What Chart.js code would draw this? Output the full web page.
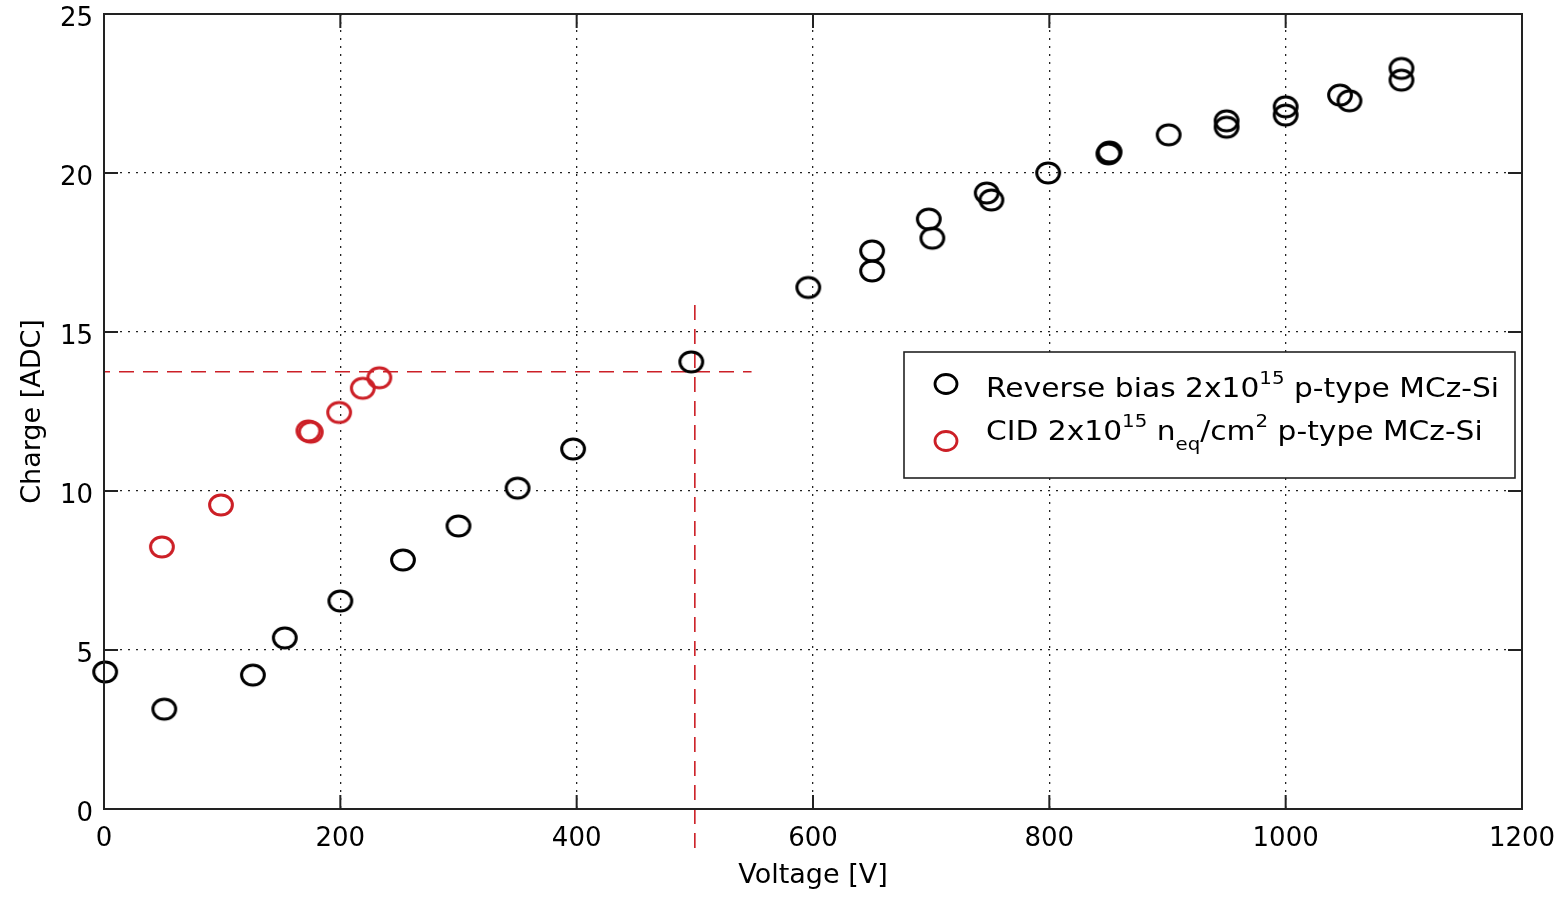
<!DOCTYPE html>
<html>
<head>
<meta charset="utf-8">
<script src="https://cdn.jsdelivr.net/npm/chart.js@4.4.0/dist/chart.umd.min.js"></script>
<style>
body { margin: 0; background: #fff; }
#contenitore { width: 1564px; height: 897px; }
</style>
</head>
<body>
<div id="contenitore"><canvas id="grafico" width="1564" height="897"></canvas></div>
<script>
// dati letti dal grafico
// reverse bias
var tensioneRB = [1, 51, 126, 153, 200, 253, 300, 350, 397, 497, 596, 650, 650, 698, 701, 747, 751, 799, 850, 851, 901, 950, 950, 1000, 1000, 1046, 1054, 1098, 1098];
var caricaRB = [4.31, 3.14, 4.21, 5.38, 6.54, 7.83, 8.9, 10.09, 11.32, 14.06, 16.4, 17.55, 16.92, 18.55, 17.95, 19.37, 19.15, 20.0, 20.6, 20.66, 21.2, 21.64, 21.44, 22.08, 21.82, 22.45, 22.27, 23.29, 22.92];

// CID
var tensioneCID = [49, 99, 173, 175, 199, 219, 233];
var caricaCID = [8.24, 9.56, 11.89, 11.85, 12.47, 13.23, 13.56];

// linee guida tratteggiate
var guidaOrizX = [0, 548];
var guidaOrizY = [13.75, 13.75];
var guidaVertX = [500, 500];
var guidaVertY = [15.85, -1.35];

// tick
var tickX = [0, 200, 400, 600, 800, 1000, 1200];
var tickY = [0, 5, 10, 15, 20, 25];

var rosso = '#cc1f26';
var nero = '#000000';

function punti(xs, ys) {
    var out = [];
    for (var i = 0; i < xs.length; i++) {
        out.push({x: xs[i], y: ys[i]});
    }
    return out;
}

// cerchio leggermente schiacciato come nell'originale
function cerchio(colore) {
    var c = document.createElement('canvas');
    c.width = 30;
    c.height = 26;
    var ctx = c.getContext('2d');
    ctx.strokeStyle = colore;
    ctx.lineWidth = 3;
    ctx.beginPath();
    ctx.ellipse(15, 13, 11.4, 10, 0, 0, Math.PI * 2);
    ctx.stroke();
    return c;
}

// cornice, tacche interne e legenda
var cornice = {
    id: 'cornice',
    afterDraw: function(chart) {
        var ctx = chart.ctx;
        var a = chart.chartArea;
        var sx = chart.scales.x;
        var sy = chart.scales.y;
        ctx.save();
        ctx.strokeStyle = '#222';
        ctx.lineWidth = 2;
        ctx.strokeRect(a.left, a.top, a.right - a.left, a.bottom - a.top);
        ctx.beginPath();
        tickX.forEach(function(v) {
            var px = sx.getPixelForValue(v);
            ctx.moveTo(px, a.bottom); ctx.lineTo(px, a.bottom - 14);
            ctx.moveTo(px, a.top); ctx.lineTo(px, a.top + 14);
        });
        tickY.forEach(function(v) {
            var py = sy.getPixelForValue(v);
            ctx.moveTo(a.left, py); ctx.lineTo(a.left + 14, py);
            ctx.moveTo(a.right, py); ctx.lineTo(a.right - 14, py);
        });
        ctx.stroke();

        // legenda
        ctx.fillStyle = '#fff';
        ctx.fillRect(904, 352, 611, 126);
        ctx.lineWidth = 1.6;
        ctx.strokeStyle = '#222';
        ctx.strokeRect(904, 352, 611, 126);

        ctx.lineWidth = 2.8;
        ctx.strokeStyle = nero;
        ctx.beginPath(); ctx.ellipse(946, 384, 11, 9.5, 0, 0, Math.PI * 2); ctx.stroke();
        ctx.strokeStyle = rosso;
        ctx.beginPath(); ctx.ellipse(946, 441, 11, 9.5, 0, 0, Math.PI * 2); ctx.stroke();

        var riga1 = [['Reverse bias 2x10', 'n'], ['15', 'sup'], [' p-type MCz-Si', 'n']];
        var riga2 = [['CID 2x10', 'n'], ['15', 'sup'], [' n', 'n'], ['eq', 'sub'], ['/cm', 'n'], ['2', 'sup'], [' p-type MCz-Si', 'n']];
        scriviRiga(ctx, riga1, 986, 397);
        scriviRiga(ctx, riga2, 986, 440);
        ctx.restore();
    }
};

function scriviRiga(ctx, pezzi, x0, base) {
    ctx.save();
    ctx.translate(x0, base);
    ctx.scale(1.1, 1);
    ctx.fillStyle = '#000';
    ctx.textBaseline = 'alphabetic';
    ctx.textAlign = 'left';
    var x = 0;
    pezzi.forEach(function(p) {
        var dy = 0;
        if (p[1] == 'n') {
            ctx.font = '27px "DejaVu Sans"';
        } else {
            ctx.font = '18px "DejaVu Sans"';
            dy = p[1] == 'sup' ? -13 : 10;
        }
        ctx.fillText(p[0], x, dy);
        x += ctx.measureText(p[0]).width;
    });
    ctx.restore();
}

var chart = new Chart(document.getElementById('grafico'), {
    type: 'scatter',
    data: {
        datasets: [{
            label: 'Reverse bias',
            data: punti(tensioneRB, caricaRB),
            pointStyle: cerchio(nero),
            pointRadius: 11,
            pointHoverRadius: 11,
            clip: false
        },
        {
            label: 'CID',
            data: punti(tensioneCID, caricaCID),
            pointStyle: cerchio(rosso),
            pointRadius: 11,
            pointHoverRadius: 11,
            clip: false
        },
        {
            type: 'line',
            label: 'guida orizzontale',
            data: punti(guidaOrizX, guidaOrizY),
            borderColor: rosso,
            borderWidth: 1.6,
            borderDash: [15, 9],
            borderDashOffset: 9,
            pointRadius: 0,
            clip: false
        },
        {
            type: 'line',
            label: 'guida verticale',
            data: punti(guidaVertX, guidaVertY),
            borderColor: rosso,
            borderWidth: 1.6,
            borderDash: [15, 9],
            pointRadius: 0,
            clip: false
        }]
    },
    options: {
        responsive: false,
        animation: false,
        layout: { padding: { top: 14, right: 42, left: 0, bottom: 0 } },
        plugins: {
            legend: { display: false },
            tooltip: { enabled: false }
        },
        scales: {
            x: {
                type: 'linear',
                min: 0,
                max: 1200,
                afterBuildTicks: function(s) { s.ticks = tickX.map(function(v) { return {value: v}; }); },
                afterFit: function(s) { s.height = 88; s.paddingLeft = 0; s.paddingRight = 0; },
                grid: { color: '#222', lineWidth: 1.3, drawTicks: false },
                border: { display: false, dash: [2, 6] },
                ticks: {
                    color: '#000',
                    padding: 17,
                    font: { family: 'DejaVu Sans', size: 26, lineHeight: 1 },
                    callback: function(v) { return String(v); }
                },
                title: {
                    display: true,
                    text: 'Voltage [V]',
                    color: '#000',
                    font: { family: 'DejaVu Sans', size: 27 },
                    padding: { top: 0, bottom: 5 }
                }
            },
            y: {
                type: 'linear',
                min: 0,
                max: 25,
                afterBuildTicks: function(s) { s.ticks = tickY.map(function(v) { return {value: v}; }); },
                afterFit: function(s) { s.width = 104; s.paddingTop = 0; s.paddingBottom = 0; },
                grid: { color: '#222', lineWidth: 1.3, drawTicks: false },
                border: { display: false, dash: [2, 6] },
                ticks: {
                    color: '#000',
                    padding: 11,
                    labelOffset: 5,
                    font: { family: 'DejaVu Sans', size: 26, lineHeight: 1 },
                    callback: function(v) { return String(v); }
                },
                title: {
                    display: true,
                    text: 'Charge [ADC]',
                    color: '#000',
                    font: { family: 'DejaVu Sans', size: 27 },
                    padding: { top: 17, bottom: 0 }
                }
            }
        }
    },
    plugins: [cornice]
});
</script>
</body>
</html>
